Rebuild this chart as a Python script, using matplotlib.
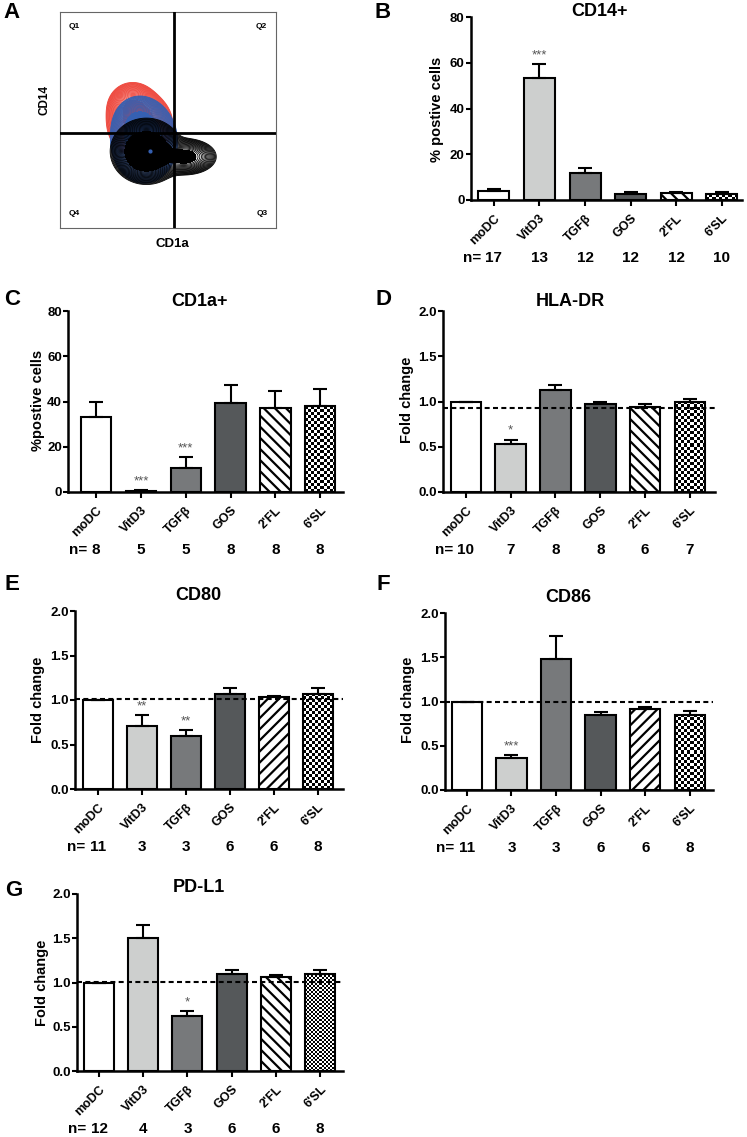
import numpy as np
import matplotlib.pyplot as plt

plt.rcParams['font.family'] = ['Liberation Sans', 'DejaVu Sans']
plt.rcParams['font.weight'] = 'bold'
plt.rcParams['hatch.linewidth'] = 1.6

W, H = 747, 1137
fig = plt.figure(figsize=(W / 100, H / 100), dpi=100)

# ---------------- data ----------------
groups = ['moDC', 'VitD3', 'TGFβ', 'GOS', "2'FL", "6'SL"]

cd14_mean = [4.0, 53.5, 11.8, 2.6, 2.9, 2.6]
cd14_err = [0.7, 6.0, 2.4, 0.7, 0.6, 0.7]
cd14_n = [17, 13, 12, 12, 12, 10]
cd14_stars = ['', '***', '', '', '', '']

cd1a_mean = [33.0, 0.5, 10.5, 39.5, 37.0, 38.0]
cd1a_err = [6.7, 0.3, 4.8, 8.0, 7.5, 7.7]
cd1a_n = [8, 5, 5, 8, 8, 8]
cd1a_stars = ['', '***', '***', '', '', '']

hla_mean = [1.0, 0.53, 1.13, 0.97, 0.94, 1.0]
hla_err = [0.0, 0.05, 0.05, 0.03, 0.03, 0.03]
hla_n = [10, 7, 8, 8, 6, 7]
hla_stars = ['', '*', '', '', '', '']
hla_ref = 0.93

cd80_mean = [1.0, 0.71, 0.59, 1.07, 1.03, 1.07]
cd80_err = [0.0, 0.12, 0.07, 0.06, 0.01, 0.06]
cd80_n = [11, 3, 3, 6, 6, 8]
cd80_stars = ['', '**', '**', '', '', '']
cd80_ref = 1.01

cd86_mean = [1.0, 0.36, 1.48, 0.85, 0.92, 0.85]
cd86_err = [0.0, 0.03, 0.26, 0.03, 0.02, 0.04]
cd86_n = [11, 3, 3, 6, 6, 8]
cd86_stars = ['', '***', '', '', '', '']
cd86_ref = 1.0

pdl1_mean = [1.0, 1.50, 0.62, 1.10, 1.06, 1.10]
pdl1_err = [0.0, 0.15, 0.06, 0.04, 0.03, 0.04]
pdl1_n = [12, 4, 3, 6, 6, 8]
pdl1_stars = ['', '', '*', '', '', '']
pdl1_ref = 1.01

# flow populations: (cx, cy, sx, sy, weight)
pop_red = [(0.37, 0.48, 0.055, 0.055, 1.0), (0.335, 0.56, 0.045, 0.045, 0.5)]
pop_blue = [(0.39, 0.40, 0.056, 0.07, 1.0), (0.36, 0.48, 0.045, 0.05, 0.4)]
pop_black = [(0.40, 0.355, 0.06, 0.055, 1.0), (0.58, 0.33, 0.06, 0.035, 0.35)]

bar_colors = ['white', '#cdcfce', '#77797b', '#55585a', 'white', 'none']


def px_axes(l, t, r, b):
    return fig.add_axes([l / W, 1 - b / H, (r - l) / W, (b - t) / H])


def ftext(x, y, s, **kw):
    fig.text(x / W, 1 - y / H, s, ha='center', va='center', **kw)


def checker(ax, x0, x1, top, cell):
    p0 = ax.transData.transform((x0, 0))
    p1 = ax.transData.transform((x1, top))
    nx = max(1, int(round(abs(p1[0] - p0[0]) / cell)))
    ny = max(1, int(round(abs(p1[1] - p0[1]) / cell)))
    arr = np.add.outer(np.arange(ny), np.arange(nx)) % 2
    ax.imshow(arr, extent=(x0, x1, 0, top), origin='lower', cmap='gray',
              vmin=0, vmax=1, aspect='auto', interpolation='nearest', zorder=1)


def bar_panel(box, xlim, ylim, yticks, fmt, means, errs, ns, stars,
              hatch='\\\\\\', cell=3, ref=None):
    ax = px_axes(*box)
    ax.set_xlim(*xlim)
    ax.set_ylim(*ylim)
    x = np.arange(len(groups))
    w = 0.68
    bars = ax.bar(x, means, w, color=bar_colors, edgecolor='k', linewidth=1.5, zorder=2)
    bars[4].set_hatch(hatch)
    checker(ax, x[5] - w / 2, x[5] + w / 2, means[5], cell)
    ax.errorbar(x, means, yerr=[np.zeros(len(x)), errs], fmt='none', ecolor='k',
                elinewidth=1.5, capsize=5, capthick=1.5, zorder=3)
    for i, s in enumerate(stars):
        if s:
            ax.annotate(s, (x[i], means[i] + errs[i]), xytext=(0, 2),
                        textcoords='offset points', ha='center', va='bottom',
                        fontsize=9.5, color='#555555', fontweight='normal')
    if ref is not None:
        ax.axhline(ref, color='k', ls=(0, (2.4, 1.6)), lw=1.5, zorder=4)
    for i, n in enumerate(ns):
        ax.annotate(str(n), (x[i], 0), xycoords=('data', 'axes fraction'),
                    xytext=(0, -42), textcoords='offset points',
                    ha='center', va='center', fontsize=11)
    ax.annotate('n=', (x[0], 0), xycoords=('data', 'axes fraction'),
                xytext=(-3.1 * len(str(ns[0])) - 3, -42), textcoords='offset points',
                ha='right', va='center', fontsize=11)
    ax.set_xlim(*xlim)
    ax.set_ylim(*ylim)
    ax.set_yticks(yticks)
    ax.set_yticklabels([fmt.format(v) for v in yticks], fontsize=9.5)
    ax.set_xticks(x)
    ax.set_xticklabels(groups, rotation=45, ha='right', rotation_mode='anchor', fontsize=9)
    for sp in ['top', 'right']:
        ax.spines[sp].set_visible(False)
    for sp in ['left', 'bottom']:
        ax.spines[sp].set_linewidth(1.8)
    ax.tick_params(axis='y', direction='out', length=3.5, width=1.5, pad=1)
    ax.tick_params(axis='x', direction='out', length=4, width=1.5, pad=5)
    return ax


# ---------------- panel A ----------------
axA = px_axes(60, 12, 276, 228)
axA.set_xlim(0, 1)
axA.set_ylim(0, 1)
gx, gy = np.meshgrid(np.linspace(0, 1, 400), np.linspace(0, 1, 400))
z = 1
for pop, col, fill_at, nlev in [(pop_red, '#ee4136', 0.45, 24), (pop_blue, '#3560b2', 0.3, 24),
                                (pop_black, 'black', 0.25, 18)]:
    dens = np.zeros_like(gx)
    for cx, cy, sx, sy, wt in pop:
        dens += wt * np.exp(-((gx - cx) ** 2 / (2 * sx ** 2) + (gy - cy) ** 2 / (2 * sy ** 2)))
    top = dens.max()
    axA.contourf(gx, gy, dens, levels=[fill_at * top, 2 * top], colors=[col], zorder=z)
    lv = np.geomspace(0.02, fill_at, nlev) * top
    axA.contour(gx, gy, dens, levels=lv, colors=col, linewidths=0.6, zorder=z + 0.5)
    z += 1
axA.plot([0.417], [0.357], 'o', color='#3560b2', ms=2, zorder=5)
axA.axvline(0.528, color='k', lw=2, zorder=6)
axA.axhline(0.44, color='k', lw=2, zorder=6)
axA.set_xticks([])
axA.set_yticks([])
for sp in axA.spines.values():
    sp.set_linewidth(0.8)
    sp.set_color('#666666')
for s, qx, qy, ha in [('Q1', 0.04, 0.935, 'left'), ('Q2', 0.96, 0.935, 'right'),
                      ('Q4', 0.04, 0.065, 'left'), ('Q3', 0.96, 0.065, 'right')]:
    axA.text(qx, qy, s, ha=ha, va='center', fontsize=6, transform=axA.transAxes)
ftext(45, 100, 'CD14', fontsize=8.5, rotation=90)
ftext(172, 244, 'CD1a', fontsize=9.5)

# ---------------- bar panels ----------------
pct_ticks = [0, 20, 40, 60, 80]
fold_ticks = [0.0, 0.5, 1.0, 1.5, 2.0]

bar_panel((471, 17, 742, 200), (-0.5, 5.44), (0, 80), pct_ticks, '{:.0f}',
          cd14_mean, cd14_err, cd14_n, cd14_stars)
bar_panel((68, 311, 343, 492), (-0.63, 5.51), (0, 80), pct_ticks, '{:.0f}',
          cd1a_mean, cd1a_err, cd1a_n, cd1a_stars)
bar_panel((443, 311, 715, 492), (-0.51, 5.56), (0, 2), fold_ticks, '{:.1f}',
          hla_mean, hla_err, hla_n, hla_stars, ref=hla_ref)
bar_panel((75, 611, 343, 789), (-0.52, 5.57), (0, 2), fold_ticks, '{:.1f}',
          cd80_mean, cd80_err, cd80_n, cd80_stars, hatch='///', ref=cd80_ref)
bar_panel((445, 613, 713, 790), (-0.49, 5.52), (0, 2), fold_ticks, '{:.1f}',
          cd86_mean, cd86_err, cd86_n, cd86_stars, hatch='///', ref=cd86_ref)
bar_panel((77, 894, 343, 1071), (-0.5, 5.52), (0, 2), fold_ticks, '{:.1f}',
          pdl1_mean, pdl1_err, pdl1_n, pdl1_stars, cell=2, ref=pdl1_ref)

# titles, y labels, panel letters
for x, y, s in [(600, 12, 'CD14+'), (200, 302, 'CD1a+'), (570, 302, 'HLA-DR'),
                (198, 595, 'CD80'), (568, 598, 'CD86'), (199, 888, 'PD-L1')]:
    ftext(x, y, s, fontsize=13)
for x, y, s in [(437, 109, '% postive cells'), (38, 400, '%postive cells'),
                (407, 400, 'Fold change'), (38, 700, 'Fold change'),
                (408, 700, 'Fold change'), (42, 983, 'Fold change')]:
    ftext(x, y, s, fontsize=10.5, rotation=90)
for x, y, s in [(12, 12, 'A'), (383, 12, 'B'), (12, 300, 'C'), (383, 300, 'D'),
                (12, 585, 'E'), (383, 585, 'F'), (14, 890, 'G')]:
    ftext(x, y, s, fontsize=16)

fig.savefig('out.png', dpi=100)
